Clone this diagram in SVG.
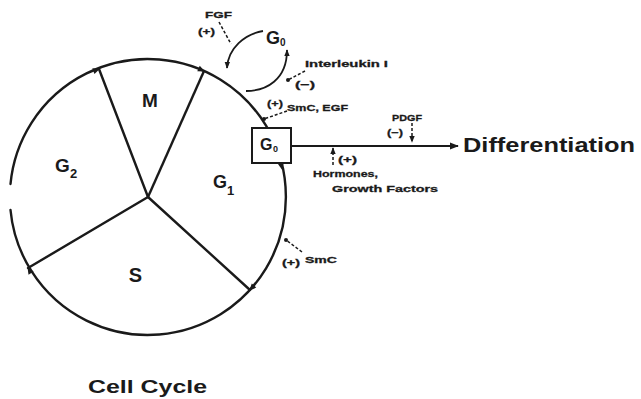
<svg xmlns="http://www.w3.org/2000/svg" width="641" height="399" viewBox="0 0 641 399">
<style>
.ln{fill:none;stroke:#1a1a1a;stroke-width:2.4;stroke-linecap:round}
.thin{fill:none;stroke:#1a1a1a;stroke-width:1.8}
.dash{fill:none;stroke:#1a1a1a;stroke-width:1.5;stroke-dasharray:3,2}
.big{font-family:"Liberation Sans",Arial,sans-serif;font-weight:bold;fill:#1a1a1a}
.sm{font-family:"Liberation Sans",Arial,sans-serif;font-weight:bold;fill:#1a1a1a;font-size:9.5px;stroke:#1a1a1a;stroke-width:0.3}
</style>
<defs>
<path id="ah" d="M1,0 L-6,-3 L-6,3 Z" fill="#1a1a1a"/>
<marker id="arr" viewBox="0 0 10 10" refX="9" refY="5" markerWidth="7" markerHeight="7" markerUnits="userSpaceOnUse" orient="auto"><path d="M0,1 L10,5 L0,9 Z" fill="#1a1a1a"/></marker>
<marker id="arrB" viewBox="0 0 10 10" refX="9" refY="5" markerWidth="9" markerHeight="9" markerUnits="userSpaceOnUse" orient="auto"><path d="M0,1 L10,5 L0,9 Z" fill="#1a1a1a"/></marker>
<marker id="dot" viewBox="0 0 4 4" refX="2" refY="2" markerWidth="4" markerHeight="4" markerUnits="userSpaceOnUse"><circle cx="2" cy="2" r="2" fill="#1a1a1a"/></marker>
</defs>
<g id="connectors">
<path class="ln" d="M10.5,184 A138,138 0 1 1 10.5,210"/>
<path class="ln" d="M148,197 L99,69"/>
<path class="ln" d="M148,197 L204,71"/>
<path class="ln" d="M148,197 L28,268"/>
<path class="ln" d="M148,197 L250,290"/>
<use href="#ah" transform="translate(99,69) rotate(-21)"/>
<use href="#ah" transform="translate(204,71) rotate(24)"/>
<use href="#ah" transform="translate(250,290) rotate(132)"/>
<use href="#ah" transform="translate(28,268) rotate(-121)"/>
<use href="#ah" transform="translate(282,169) rotate(78)"/>
<path class="thin" d="M291,146 L458,146" marker-end="url(#arrB)"/>
<path class="thin" d="M263,31 C245,34 228,48 227,68" marker-end="url(#arr)"/>
<path class="thin" d="M246,91 C266,91 287,80 287,50" marker-end="url(#arr)"/>
<path class="dash" d="M219,22 L231,44"/>
<path class="dash" d="M305,71 L288,80" marker-end="url(#dot)"/>
<path class="dash" d="M287,111 L264,119" marker-end="url(#dot)"/>
<path class="dash" d="M412,123 L412,142" marker-end="url(#arr)"/>
<path class="dash" d="M333,165 L333,148" marker-end="url(#arr)"/>
<path class="dash" d="M302,252 L286,240" marker-end="url(#dot)"/>
</g>
<g id="phase-M"><text class="big" x="150" y="107" font-size="19" text-anchor="middle">M</text></g>
<g id="phase-G2"><text class="big" x="55" y="172" font-size="19">G</text><text class="big" x="70" y="178" font-size="13">2</text></g>
<g id="phase-S"><text class="big" x="135.5" y="282" font-size="20" text-anchor="middle">S</text></g>
<g id="phase-G1"><text class="big" x="213" y="188" font-size="18">G</text><text class="big" x="227" y="195" font-size="13">1</text></g>
<g id="G0-box"><rect x="252" y="128" width="39" height="35" fill="#fff" stroke="#1a1a1a" stroke-width="2"/><text class="big" x="260" y="150" font-size="16">G</text><text class="big" x="273" y="152" font-size="9">0</text></g>
<g id="G0-top"><text class="big" x="266" y="44" font-size="18">G</text><text class="big" x="280" y="46" font-size="10">0</text></g>
<g id="differentiation"><text class="big" x="463" y="152" font-size="20" textLength="172" lengthAdjust="spacingAndGlyphs">Differentiation</text></g>
<g id="cell-cycle"><text class="big" x="88" y="393" font-size="19" textLength="119" lengthAdjust="spacingAndGlyphs">Cell Cycle</text></g>
<g id="labels">
<text class="sm" x="205" y="18" textLength="27" lengthAdjust="spacingAndGlyphs">FGF</text>
<text class="sm" x="198" y="35" textLength="17" lengthAdjust="spacingAndGlyphs">(+)</text>
<text class="sm" x="305" y="67" textLength="83" lengthAdjust="spacingAndGlyphs">Interleukin I</text>
<text class="sm" x="295" y="88" textLength="20" lengthAdjust="spacingAndGlyphs">(−)</text>
<text class="sm" x="267" y="107" textLength="16" lengthAdjust="spacingAndGlyphs">(+)</text>
<text class="sm" x="287" y="111" textLength="61" lengthAdjust="spacingAndGlyphs">SmC, EGF</text>
<text class="sm" x="392" y="121" textLength="30" lengthAdjust="spacingAndGlyphs">PDGF</text>
<text class="sm" x="387" y="136" textLength="16" lengthAdjust="spacingAndGlyphs">(−)</text>
<text class="sm" x="338" y="163" textLength="19" lengthAdjust="spacingAndGlyphs">(+)</text>
<text class="sm" x="313" y="177" textLength="65" lengthAdjust="spacingAndGlyphs">Hormones,</text>
<text class="sm" x="332" y="192" textLength="106" lengthAdjust="spacingAndGlyphs">Growth Factors</text>
<text class="sm" x="282" y="266" textLength="18" lengthAdjust="spacingAndGlyphs">(+)</text>
<text class="sm" x="305" y="263" textLength="32" lengthAdjust="spacingAndGlyphs">SmC</text>
</g>
</svg>
